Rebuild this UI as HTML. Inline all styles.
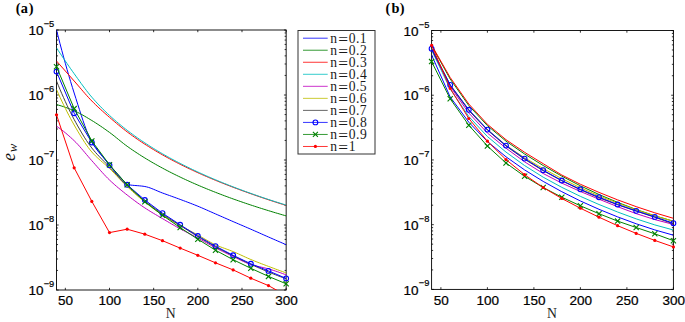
<!DOCTYPE html>
<html><head><meta charset="utf-8"><style>
html,body{margin:0;padding:0;background:#fff;}
body{width:685px;height:322px;position:relative;overflow:hidden;}
svg{position:absolute;left:0;top:0;}
.tk{font-family:"Liberation Sans",sans-serif;font-size:13.5px;fill:#000;stroke:#000;stroke-width:0.22px}
.sp{font-family:"Liberation Sans",sans-serif;font-size:9.3px;fill:#000;stroke:#000;stroke-width:0.22px}
.lg{font-family:"Liberation Serif",serif;font-size:13.6px;fill:#1a1a1a}
.eq{font-size:17.4px}
.pl{font-family:"Liberation Serif",serif;font-size:14.34px;font-weight:bold;fill:#000}
.nl{font-family:"Liberation Serif",serif;font-size:13.75px;fill:#222}
.ew{font-family:"Liberation Serif",serif;font-size:18px;font-style:italic;fill:#111}
</style></head><body>
<svg width="685" height="322" viewBox="0 0 685 322">
<defs><clipPath id="ca"><rect x="56.5" y="30.0" width="229.64999999999998" height="260.0"/></clipPath><clipPath id="cb"><rect x="431.6" y="30.5" width="241.79999999999995" height="258.9"/></clipPath></defs>
<rect x="56.5" y="30.0" width="229.65" height="260.00" fill="none" stroke="#000" stroke-width="0.9"/>
<path d="M65.33,290.0v-2.2M65.33,30.0v2.2" stroke="#000" stroke-width="0.8"/><path d="M109.50,290.0v-2.2M109.50,30.0v2.2" stroke="#000" stroke-width="0.8"/><path d="M153.66,290.0v-2.2M153.66,30.0v2.2" stroke="#000" stroke-width="0.8"/><path d="M197.82,290.0v-2.2M197.82,30.0v2.2" stroke="#000" stroke-width="0.8"/><path d="M241.99,290.0v-2.2M241.99,30.0v2.2" stroke="#000" stroke-width="0.8"/><path d="M286.15,290.0v-2.2M286.15,30.0v2.2" stroke="#000" stroke-width="0.8"/><path d="M56.5,290.00h2.2M286.15,290.00h-2.2" stroke="#000" stroke-width="0.8"/><path d="M56.5,270.43h1.54M286.15,270.43h-1.54" stroke="#000" stroke-width="0.8"/><path d="M56.5,258.99h1.54M286.15,258.99h-1.54" stroke="#000" stroke-width="0.8"/><path d="M56.5,250.87h1.54M286.15,250.87h-1.54" stroke="#000" stroke-width="0.8"/><path d="M56.5,244.57h1.54M286.15,244.57h-1.54" stroke="#000" stroke-width="0.8"/><path d="M56.5,239.42h1.54M286.15,239.42h-1.54" stroke="#000" stroke-width="0.8"/><path d="M56.5,235.07h1.54M286.15,235.07h-1.54" stroke="#000" stroke-width="0.8"/><path d="M56.5,231.30h1.54M286.15,231.30h-1.54" stroke="#000" stroke-width="0.8"/><path d="M56.5,227.97h1.54M286.15,227.97h-1.54" stroke="#000" stroke-width="0.8"/><path d="M56.5,225.00h2.2M286.15,225.00h-2.2" stroke="#000" stroke-width="0.8"/><path d="M56.5,205.43h1.54M286.15,205.43h-1.54" stroke="#000" stroke-width="0.8"/><path d="M56.5,193.99h1.54M286.15,193.99h-1.54" stroke="#000" stroke-width="0.8"/><path d="M56.5,185.87h1.54M286.15,185.87h-1.54" stroke="#000" stroke-width="0.8"/><path d="M56.5,179.57h1.54M286.15,179.57h-1.54" stroke="#000" stroke-width="0.8"/><path d="M56.5,174.42h1.54M286.15,174.42h-1.54" stroke="#000" stroke-width="0.8"/><path d="M56.5,170.07h1.54M286.15,170.07h-1.54" stroke="#000" stroke-width="0.8"/><path d="M56.5,166.30h1.54M286.15,166.30h-1.54" stroke="#000" stroke-width="0.8"/><path d="M56.5,162.97h1.54M286.15,162.97h-1.54" stroke="#000" stroke-width="0.8"/><path d="M56.5,160.00h2.2M286.15,160.00h-2.2" stroke="#000" stroke-width="0.8"/><path d="M56.5,140.43h1.54M286.15,140.43h-1.54" stroke="#000" stroke-width="0.8"/><path d="M56.5,128.99h1.54M286.15,128.99h-1.54" stroke="#000" stroke-width="0.8"/><path d="M56.5,120.87h1.54M286.15,120.87h-1.54" stroke="#000" stroke-width="0.8"/><path d="M56.5,114.57h1.54M286.15,114.57h-1.54" stroke="#000" stroke-width="0.8"/><path d="M56.5,109.42h1.54M286.15,109.42h-1.54" stroke="#000" stroke-width="0.8"/><path d="M56.5,105.07h1.54M286.15,105.07h-1.54" stroke="#000" stroke-width="0.8"/><path d="M56.5,101.30h1.54M286.15,101.30h-1.54" stroke="#000" stroke-width="0.8"/><path d="M56.5,97.97h1.54M286.15,97.97h-1.54" stroke="#000" stroke-width="0.8"/><path d="M56.5,95.00h2.2M286.15,95.00h-2.2" stroke="#000" stroke-width="0.8"/><path d="M56.5,75.43h1.54M286.15,75.43h-1.54" stroke="#000" stroke-width="0.8"/><path d="M56.5,63.99h1.54M286.15,63.99h-1.54" stroke="#000" stroke-width="0.8"/><path d="M56.5,55.87h1.54M286.15,55.87h-1.54" stroke="#000" stroke-width="0.8"/><path d="M56.5,49.57h1.54M286.15,49.57h-1.54" stroke="#000" stroke-width="0.8"/><path d="M56.5,44.42h1.54M286.15,44.42h-1.54" stroke="#000" stroke-width="0.8"/><path d="M56.5,40.07h1.54M286.15,40.07h-1.54" stroke="#000" stroke-width="0.8"/><path d="M56.5,36.30h1.54M286.15,36.30h-1.54" stroke="#000" stroke-width="0.8"/><path d="M56.5,32.97h1.54M286.15,32.97h-1.54" stroke="#000" stroke-width="0.8"/><path d="M56.5,30.00h2.2M286.15,30.00h-2.2" stroke="#000" stroke-width="0.8"/>
<rect x="431.6" y="30.5" width="241.80" height="258.90" fill="none" stroke="#000" stroke-width="0.9"/>
<path d="M440.90,289.4v-2.2M440.90,30.5v2.2" stroke="#000" stroke-width="0.8"/><path d="M487.40,289.4v-2.2M487.40,30.5v2.2" stroke="#000" stroke-width="0.8"/><path d="M533.90,289.4v-2.2M533.90,30.5v2.2" stroke="#000" stroke-width="0.8"/><path d="M580.40,289.4v-2.2M580.40,30.5v2.2" stroke="#000" stroke-width="0.8"/><path d="M626.90,289.4v-2.2M626.90,30.5v2.2" stroke="#000" stroke-width="0.8"/><path d="M673.40,289.4v-2.2M673.40,30.5v2.2" stroke="#000" stroke-width="0.8"/><path d="M431.6,289.40h2.2M673.4,289.40h-2.2" stroke="#000" stroke-width="0.8"/><path d="M431.6,269.92h1.54M673.4,269.92h-1.54" stroke="#000" stroke-width="0.8"/><path d="M431.6,258.52h1.54M673.4,258.52h-1.54" stroke="#000" stroke-width="0.8"/><path d="M431.6,250.43h1.54M673.4,250.43h-1.54" stroke="#000" stroke-width="0.8"/><path d="M431.6,244.16h1.54M673.4,244.16h-1.54" stroke="#000" stroke-width="0.8"/><path d="M431.6,239.03h1.54M673.4,239.03h-1.54" stroke="#000" stroke-width="0.8"/><path d="M431.6,234.70h1.54M673.4,234.70h-1.54" stroke="#000" stroke-width="0.8"/><path d="M431.6,230.95h1.54M673.4,230.95h-1.54" stroke="#000" stroke-width="0.8"/><path d="M431.6,227.64h1.54M673.4,227.64h-1.54" stroke="#000" stroke-width="0.8"/><path d="M431.6,224.67h2.2M673.4,224.67h-2.2" stroke="#000" stroke-width="0.8"/><path d="M431.6,205.19h1.54M673.4,205.19h-1.54" stroke="#000" stroke-width="0.8"/><path d="M431.6,193.79h1.54M673.4,193.79h-1.54" stroke="#000" stroke-width="0.8"/><path d="M431.6,185.71h1.54M673.4,185.71h-1.54" stroke="#000" stroke-width="0.8"/><path d="M431.6,179.43h1.54M673.4,179.43h-1.54" stroke="#000" stroke-width="0.8"/><path d="M431.6,174.31h1.54M673.4,174.31h-1.54" stroke="#000" stroke-width="0.8"/><path d="M431.6,169.98h1.54M673.4,169.98h-1.54" stroke="#000" stroke-width="0.8"/><path d="M431.6,166.22h1.54M673.4,166.22h-1.54" stroke="#000" stroke-width="0.8"/><path d="M431.6,162.91h1.54M673.4,162.91h-1.54" stroke="#000" stroke-width="0.8"/><path d="M431.6,159.95h2.2M673.4,159.95h-2.2" stroke="#000" stroke-width="0.8"/><path d="M431.6,140.47h1.54M673.4,140.47h-1.54" stroke="#000" stroke-width="0.8"/><path d="M431.6,129.07h1.54M673.4,129.07h-1.54" stroke="#000" stroke-width="0.8"/><path d="M431.6,120.98h1.54M673.4,120.98h-1.54" stroke="#000" stroke-width="0.8"/><path d="M431.6,114.71h1.54M673.4,114.71h-1.54" stroke="#000" stroke-width="0.8"/><path d="M431.6,109.58h1.54M673.4,109.58h-1.54" stroke="#000" stroke-width="0.8"/><path d="M431.6,105.25h1.54M673.4,105.25h-1.54" stroke="#000" stroke-width="0.8"/><path d="M431.6,101.50h1.54M673.4,101.50h-1.54" stroke="#000" stroke-width="0.8"/><path d="M431.6,98.19h1.54M673.4,98.19h-1.54" stroke="#000" stroke-width="0.8"/><path d="M431.6,95.22h2.2M673.4,95.22h-2.2" stroke="#000" stroke-width="0.8"/><path d="M431.6,75.74h1.54M673.4,75.74h-1.54" stroke="#000" stroke-width="0.8"/><path d="M431.6,64.34h1.54M673.4,64.34h-1.54" stroke="#000" stroke-width="0.8"/><path d="M431.6,56.26h1.54M673.4,56.26h-1.54" stroke="#000" stroke-width="0.8"/><path d="M431.6,49.98h1.54M673.4,49.98h-1.54" stroke="#000" stroke-width="0.8"/><path d="M431.6,44.86h1.54M673.4,44.86h-1.54" stroke="#000" stroke-width="0.8"/><path d="M431.6,40.53h1.54M673.4,40.53h-1.54" stroke="#000" stroke-width="0.8"/><path d="M431.6,36.77h1.54M673.4,36.77h-1.54" stroke="#000" stroke-width="0.8"/><path d="M431.6,33.46h1.54M673.4,33.46h-1.54" stroke="#000" stroke-width="0.8"/><path d="M431.6,30.50h2.2M673.4,30.50h-2.2" stroke="#000" stroke-width="0.8"/>
<polyline clip-path="url(#ca)" points="56.50,30.00 58.27,36.94 60.03,43.75 61.80,50.43 63.57,56.96 65.33,63.36 67.10,69.61 68.87,75.70 70.63,81.63 72.40,87.40 74.17,93.00 75.93,98.56 77.70,104.17 79.47,109.74 81.23,115.23 83.00,120.54 84.76,125.60 86.53,130.36 88.30,134.72 90.06,138.63 91.83,142.00 93.60,144.94 95.36,147.61 97.13,150.06 98.90,152.33 100.66,154.46 102.43,156.49 104.20,158.47 105.96,160.44 107.73,162.43 109.50,164.50 111.26,166.74 113.03,169.17 114.80,171.70 116.56,174.24 118.33,176.69 120.10,178.97 121.86,180.98 123.63,182.63 125.39,183.84 127.16,184.50 128.93,184.82 130.69,185.08 132.46,185.27 134.23,185.43 135.99,185.57 137.76,185.70 139.53,185.85 141.29,186.02 143.06,186.23 144.83,186.50 146.59,186.87 148.36,187.36 150.13,187.95 151.89,188.61 153.66,189.33 155.43,190.08 157.19,190.84 158.96,191.60 160.73,192.32 162.49,193.00 164.26,193.64 166.03,194.28 167.79,194.92 169.56,195.55 171.32,196.18 173.09,196.82 174.86,197.45 176.62,198.10 178.39,198.74 180.16,199.40 181.92,200.06 183.69,200.72 185.46,201.38 187.22,202.05 188.99,202.72 190.76,203.40 192.52,204.08 194.29,204.78 196.06,205.48 197.82,206.20 199.59,206.93 201.36,207.68 203.12,208.44 204.89,209.21 206.66,209.99 208.42,210.77 210.19,211.56 211.96,212.34 213.72,213.13 215.49,213.90 217.25,214.67 219.02,215.44 220.79,216.21 222.55,216.98 224.32,217.76 226.09,218.53 227.85,219.30 229.62,220.07 231.39,220.83 233.15,221.60 234.92,222.36 236.69,223.12 238.45,223.88 240.22,224.64 241.99,225.39 243.75,226.15 245.52,226.91 247.29,227.67 249.05,228.43 250.82,229.20 252.59,229.97 254.35,230.75 256.12,231.53 257.89,232.31 259.65,233.09 261.42,233.88 263.18,234.66 264.95,235.44 266.72,236.22 268.48,237.00 270.25,237.77 272.02,238.55 273.78,239.32 275.55,240.09 277.32,240.86 279.08,241.63 280.85,242.40 282.62,243.17 284.38,243.93 286.15,244.70" fill="none" stroke="#0000ff" stroke-width="1.0" stroke-linejoin="round"/>
<polyline clip-path="url(#ca)" points="56.50,104.60 58.27,105.07 60.03,105.57 61.80,106.12 63.57,106.70 65.33,107.31 67.10,107.96 68.87,108.63 70.63,109.33 72.40,110.05 74.17,110.80 75.93,111.59 77.70,112.44 79.47,113.33 81.23,114.28 83.00,115.26 84.76,116.27 86.53,117.31 88.30,118.37 90.06,119.43 91.83,120.50 93.60,121.58 95.36,122.70 97.13,123.83 98.90,125.00 100.66,126.19 102.43,127.39 104.20,128.62 105.96,129.87 107.73,131.13 109.50,132.40 111.26,133.71 113.03,135.07 114.80,136.48 116.56,137.90 118.33,139.34 120.10,140.78 121.86,142.20 123.63,143.60 125.39,144.96 127.16,146.26 128.93,147.52 130.69,148.75 132.46,149.97 134.23,151.16 135.99,152.34 137.76,153.50 139.53,154.64 141.29,155.77 143.06,156.88 144.83,157.97 146.59,159.05 148.36,160.12 150.13,161.16 151.89,162.20 153.66,163.22 155.43,164.22 157.19,165.22 158.96,166.20 160.73,167.16 162.49,168.12 164.26,169.07 166.03,170.00 167.79,170.92 169.56,171.83 171.32,172.73 173.09,173.62 174.86,174.50 176.62,175.36 178.39,176.22 180.16,177.07 181.92,177.91 183.69,178.74 185.46,179.57 187.22,180.38 188.99,181.18 190.76,181.98 192.52,182.77 194.29,183.54 196.06,184.32 197.82,185.08 199.59,185.84 201.36,186.59 203.12,187.33 204.89,188.06 206.66,188.79 208.42,189.51 210.19,190.22 211.96,190.93 213.72,191.63 215.49,192.32 217.25,193.01 219.02,193.69 220.79,194.37 222.55,195.04 224.32,195.70 226.09,196.36 227.85,197.01 229.62,197.66 231.39,198.30 233.15,198.94 234.92,199.57 236.69,200.19 238.45,200.81 240.22,201.43 241.99,202.04 243.75,202.65 245.52,203.25 247.29,203.84 249.05,204.43 250.82,205.02 252.59,205.60 254.35,206.18 256.12,206.75 257.89,207.32 259.65,207.89 261.42,208.45 263.18,209.01 264.95,209.56 266.72,210.11 268.48,210.65 270.25,211.19 272.02,211.73 273.78,212.27 275.55,212.80 277.32,213.32 279.08,213.84 280.85,214.36 282.62,214.88 284.38,215.39 286.15,215.90" fill="none" stroke="#008000" stroke-width="1.0" stroke-linejoin="round"/>
<polyline clip-path="url(#ca)" points="56.50,61.00 58.27,63.00 60.03,65.00 61.80,67.00 63.57,69.00 65.33,71.00 67.10,73.00 68.87,75.00 70.63,77.00 72.40,79.00 74.17,81.00 75.93,83.02 77.70,85.07 79.47,87.13 81.23,89.20 83.00,91.25 84.76,93.29 86.53,95.30 88.30,97.26 90.06,99.17 91.83,101.00 93.60,102.77 95.36,104.50 97.13,106.19 98.90,107.85 100.66,109.47 102.43,111.07 104.20,112.65 105.96,114.21 107.73,115.76 109.50,117.30 111.26,118.83 113.03,120.36 114.80,121.87 116.56,123.36 118.33,124.84 120.10,126.30 121.86,127.73 123.63,129.14 125.39,130.52 127.16,131.87 128.93,133.19 130.69,134.49 132.46,135.77 134.23,137.03 135.99,138.27 137.76,139.49 139.53,140.69 141.29,141.87 143.06,143.04 144.83,144.19 146.59,145.32 148.36,146.44 150.13,147.54 151.89,148.63 153.66,149.70 155.43,150.76 157.19,151.80 158.96,152.83 160.73,153.85 162.49,154.86 164.26,155.85 166.03,156.83 167.79,157.80 169.56,158.76 171.32,159.70 173.09,160.64 174.86,161.56 176.62,162.47 178.39,163.38 180.16,164.27 181.92,165.15 183.69,166.03 185.46,166.89 187.22,167.75 188.99,168.59 190.76,169.43 192.52,170.26 194.29,171.07 196.06,171.89 197.82,172.69 199.59,173.49 201.36,174.27 203.12,175.05 204.89,175.82 206.66,176.59 208.42,177.35 210.19,178.10 211.96,178.84 213.72,179.58 215.49,180.31 217.25,181.03 219.02,181.75 220.79,182.45 222.55,183.16 224.32,183.85 226.09,184.55 227.85,185.23 229.62,185.91 231.39,186.59 233.15,187.26 234.92,187.93 236.69,188.59 238.45,189.24 240.22,189.90 241.99,190.54 243.75,191.19 245.52,191.82 247.29,192.46 249.05,193.09 250.82,193.71 252.59,194.34 254.35,194.96 256.12,195.57 257.89,196.18 259.65,196.79 261.42,197.40 263.18,197.99 264.95,198.59 266.72,199.18 268.48,199.77 270.25,200.35 272.02,200.92 273.78,201.50 275.55,202.07 277.32,202.63 279.08,203.19 280.85,203.75 282.62,204.31 284.38,204.85 286.15,205.40" fill="none" stroke="#ff0000" stroke-width="1.0" stroke-linejoin="round"/>
<polyline clip-path="url(#ca)" points="56.50,47.80 58.27,50.50 60.03,53.17 61.80,55.82 63.57,58.45 65.33,61.05 67.10,63.63 68.87,66.19 70.63,68.71 72.40,71.22 74.17,73.69 75.93,76.16 77.70,78.63 79.47,81.09 81.23,83.54 83.00,85.95 84.76,88.32 86.53,90.64 88.30,92.90 90.06,95.08 91.83,97.18 93.60,99.21 95.36,101.18 97.13,103.10 98.90,104.98 100.66,106.81 102.43,108.60 104.20,110.35 105.96,112.06 107.73,113.75 109.50,115.40 111.26,117.02 113.03,118.61 114.80,120.16 116.56,121.69 118.33,123.19 120.10,124.65 121.86,126.10 123.63,127.52 125.39,128.91 127.16,130.29 128.93,131.64 130.69,132.97 132.46,134.27 134.23,135.56 135.99,136.82 137.76,138.07 139.53,139.30 141.29,140.50 143.06,141.70 144.83,142.87 146.59,144.03 148.36,145.17 150.13,146.30 151.89,147.41 153.66,148.51 155.43,149.59 157.19,150.65 158.96,151.71 160.73,152.75 162.49,153.77 164.26,154.79 166.03,155.79 167.79,156.78 169.56,157.76 171.32,158.73 173.09,159.68 174.86,160.62 176.62,161.56 178.39,162.48 180.16,163.39 181.92,164.29 183.69,165.19 185.46,166.07 187.22,166.94 188.99,167.81 190.76,168.66 192.52,169.51 194.29,170.34 196.06,171.17 197.82,171.99 199.59,172.81 201.36,173.61 203.12,174.41 204.89,175.20 206.66,175.98 208.42,176.75 210.19,177.52 211.96,178.28 213.72,179.03 215.49,179.78 217.25,180.51 219.02,181.25 220.79,181.97 222.55,182.69 224.32,183.41 226.09,184.11 227.85,184.81 229.62,185.51 231.39,186.20 233.15,186.88 234.92,187.56 236.69,188.23 238.45,188.90 240.22,189.56 241.99,190.21 243.75,190.86 245.52,191.51 247.29,192.15 249.05,192.78 250.82,193.41 252.59,194.04 254.35,194.66 256.12,195.28 257.89,195.89 259.65,196.50 261.42,197.10 263.18,197.70 264.95,198.29 266.72,198.88 268.48,199.47 270.25,200.05 272.02,200.62 273.78,201.20 275.55,201.77 277.32,202.33 279.08,202.89 280.85,203.45 282.62,204.01 284.38,204.55 286.15,205.10" fill="none" stroke="#00bfbf" stroke-width="1.0" stroke-linejoin="round"/>
<polyline clip-path="url(#ca)" points="56.50,126.20 58.27,127.41 60.03,128.67 61.80,130.00 63.57,131.38 65.33,132.82 67.10,134.30 68.87,135.84 70.63,137.42 72.40,139.04 74.17,140.70 75.93,142.44 77.70,144.30 79.47,146.25 81.23,148.28 83.00,150.35 84.76,152.45 86.53,154.55 88.30,156.64 90.06,158.70 91.83,160.70 93.60,162.68 95.36,164.68 97.13,166.69 98.90,168.70 100.66,170.70 102.43,172.66 104.20,174.59 105.96,176.46 107.73,178.27 109.50,180.00 111.26,181.66 113.03,183.28 114.80,184.85 116.56,186.38 118.33,187.88 120.10,189.34 121.86,190.78 123.63,192.20 125.39,193.61 127.16,195.00 128.93,196.38 130.69,197.74 132.46,199.09 134.23,200.42 135.99,201.72 137.76,203.01 139.53,204.27 141.29,205.50 143.06,206.72 144.83,207.90 146.59,209.05 148.36,210.18 150.13,211.27 151.89,212.35 153.66,213.41 155.43,214.45 157.19,215.49 158.96,216.52 160.73,217.56 162.49,218.60 164.26,219.64 166.03,220.69 167.79,221.73 169.56,222.77 171.32,223.80 173.09,224.82 174.86,225.83 176.62,226.84 178.39,227.82 180.16,228.80 181.92,229.76 183.69,230.69 185.46,231.61 187.22,232.52 188.99,233.42 190.76,234.32 192.52,235.23 194.29,236.14 196.06,237.06 197.82,238.00 199.59,238.96 201.36,239.94 203.12,240.93 204.89,241.93 206.66,242.93 208.42,243.93 210.19,244.93 211.96,245.90 213.72,246.86 215.49,247.80 217.25,248.72 219.02,249.62 220.79,250.51 222.55,251.39 224.32,252.26 226.09,253.12 227.85,253.98 229.62,254.82 231.39,255.66 233.15,256.50 234.92,257.35 236.69,258.22 238.45,259.10 240.22,259.97 241.99,260.83 243.75,261.67 245.52,262.46 247.29,263.21 249.05,263.89 250.82,264.50 252.59,265.04 254.35,265.52 256.12,265.97 257.89,266.38 259.65,266.78 261.42,267.17 263.18,267.56 264.95,267.97 266.72,268.42 268.48,268.90 270.25,269.42 272.02,269.96 273.78,270.51 275.55,271.09 277.32,271.68 279.08,272.30 280.85,272.92 282.62,273.57 284.38,274.23 286.15,274.90" fill="none" stroke="#bf00bf" stroke-width="1.0" stroke-linejoin="round"/>
<polyline clip-path="url(#ca)" points="56.50,89.50 58.27,93.44 60.03,97.30 61.80,101.08 63.57,104.78 65.33,108.38 67.10,111.90 68.87,115.33 70.63,118.65 72.40,121.88 74.17,125.00 75.93,128.06 77.70,131.08 79.47,134.05 81.23,136.95 83.00,139.77 84.76,142.49 86.53,145.09 88.30,147.55 90.06,149.86 91.83,152.00 93.60,153.97 95.36,155.79 97.13,157.49 98.90,159.10 100.66,160.66 102.43,162.18 104.20,163.70 105.96,165.24 107.73,166.83 109.50,168.50 111.26,170.25 113.03,172.04 114.80,173.87 116.56,175.72 118.33,177.57 120.10,179.42 121.86,181.25 123.63,183.05 125.39,184.80 127.16,186.50 128.93,188.16 130.69,189.79 132.46,191.41 134.23,193.00 135.99,194.56 137.76,196.11 139.53,197.62 141.29,199.11 143.06,200.57 144.83,202.00 146.59,203.40 148.36,204.79 150.13,206.15 151.89,207.50 153.66,208.82 155.43,210.11 157.19,211.38 158.96,212.61 160.73,213.82 162.49,215.00 164.26,216.15 166.03,217.26 167.79,218.35 169.56,219.41 171.32,220.46 173.09,221.48 174.86,222.50 176.62,223.50 178.39,224.50 180.16,225.50 181.92,226.49 183.69,227.46 185.46,228.41 187.22,229.35 188.99,230.29 190.76,231.22 192.52,232.16 194.29,233.10 196.06,234.04 197.82,235.00 199.59,235.98 201.36,237.00 203.12,238.03 204.89,239.07 206.66,240.10 208.42,241.12 210.19,242.11 211.96,243.06 213.72,243.96 215.49,244.80 217.25,245.57 219.02,246.30 220.79,246.99 222.55,247.65 224.32,248.29 226.09,248.92 227.85,249.56 229.62,250.21 231.39,250.89 233.15,251.60 234.92,252.35 236.69,253.12 238.45,253.92 240.22,254.73 241.99,255.54 243.75,256.36 245.52,257.17 247.29,257.97 249.05,258.75 250.82,259.50 252.59,260.23 254.35,260.95 256.12,261.65 257.89,262.35 259.65,263.03 261.42,263.71 263.18,264.39 264.95,265.06 266.72,265.73 268.48,266.40 270.25,267.07 272.02,267.73 273.78,268.39 275.55,269.05 277.32,269.70 279.08,270.35 280.85,270.99 282.62,271.63 284.38,272.27 286.15,272.90" fill="none" stroke="#bfbf00" stroke-width="1.0" stroke-linejoin="round"/>
<polyline clip-path="url(#ca)" points="56.50,81.00 58.27,85.31 60.03,89.52 61.80,93.65 63.57,97.67 65.33,101.59 67.10,105.41 68.87,109.11 70.63,112.70 72.40,116.16 74.17,119.50 75.93,122.75 77.70,125.93 79.47,129.03 81.23,132.06 83.00,134.99 84.76,137.83 86.53,140.56 88.30,143.17 90.06,145.65 91.83,148.00 93.60,150.21 95.36,152.29 97.13,154.27 98.90,156.17 100.66,158.01 102.43,159.80 104.20,161.58 105.96,163.35 107.73,165.15 109.50,167.00 111.26,168.88 113.03,170.78 114.80,172.69 116.56,174.59 118.33,176.48 120.10,178.36 121.86,180.21 123.63,182.02 125.39,183.78 127.16,185.50 128.93,187.17 130.69,188.82 132.46,190.44 134.23,192.03 135.99,193.59 137.76,195.13 139.53,196.64 141.29,198.12 143.06,199.57 144.83,201.00 146.59,202.40 148.36,203.77 150.13,205.12 151.89,206.44 153.66,207.74 155.43,209.02 157.19,210.29 158.96,211.54 160.73,212.77 162.49,214.00 164.26,215.21 166.03,216.40 167.79,217.57 169.56,218.73 171.32,219.87 173.09,221.00 174.86,222.13 176.62,223.26 178.39,224.38 180.16,225.50 181.92,226.62 183.69,227.74 185.46,228.86 187.22,229.97 188.99,231.08 190.76,232.18 192.52,233.27 194.29,234.35 196.06,235.43 197.82,236.50 199.59,237.56 201.36,238.63 203.12,239.68 204.89,240.74 206.66,241.78 208.42,242.81 210.19,243.83 211.96,244.84 213.72,245.83 215.49,246.80 217.25,247.75 219.02,248.69 220.79,249.61 222.55,250.51 224.32,251.41 226.09,252.30 227.85,253.18 229.62,254.05 231.39,254.93 233.15,255.80 234.92,256.67 236.69,257.54 238.45,258.41 240.22,259.28 241.99,260.13 243.75,260.98 245.52,261.83 247.29,262.66 249.05,263.49 250.82,264.30 252.59,265.11 254.35,265.90 256.12,266.70 257.89,267.48 259.65,268.26 261.42,269.03 263.18,269.78 264.95,270.53 266.72,271.27 268.48,272.00 270.25,272.72 272.02,273.43 273.78,274.13 275.55,274.82 277.32,275.51 279.08,276.19 280.85,276.85 282.62,277.51 284.38,278.16 286.15,278.80" fill="none" stroke="#404040" stroke-width="1.0" stroke-linejoin="round"/>
<polyline clip-path="url(#ca)" points="56.50,71.60 74.17,113.20 91.83,142.50 109.50,165.30 127.16,184.80 144.83,200.00 162.49,213.20 180.16,224.80 197.82,236.00 215.49,246.20 233.15,255.30 250.82,263.80 268.48,270.90 286.15,278.40" fill="none" stroke="#0000ff" stroke-width="1.0" stroke-linejoin="round"/>
<circle cx="56.50" cy="71.60" r="2.4" fill="none" stroke="#0000ff" stroke-width="1.1"/><circle cx="74.17" cy="113.20" r="2.4" fill="none" stroke="#0000ff" stroke-width="1.1"/><circle cx="91.83" cy="142.50" r="2.4" fill="none" stroke="#0000ff" stroke-width="1.1"/><circle cx="109.50" cy="165.30" r="2.4" fill="none" stroke="#0000ff" stroke-width="1.1"/><circle cx="127.16" cy="184.80" r="2.4" fill="none" stroke="#0000ff" stroke-width="1.1"/><circle cx="144.83" cy="200.00" r="2.4" fill="none" stroke="#0000ff" stroke-width="1.1"/><circle cx="162.49" cy="213.20" r="2.4" fill="none" stroke="#0000ff" stroke-width="1.1"/><circle cx="180.16" cy="224.80" r="2.4" fill="none" stroke="#0000ff" stroke-width="1.1"/><circle cx="197.82" cy="236.00" r="2.4" fill="none" stroke="#0000ff" stroke-width="1.1"/><circle cx="215.49" cy="246.20" r="2.4" fill="none" stroke="#0000ff" stroke-width="1.1"/><circle cx="233.15" cy="255.30" r="2.4" fill="none" stroke="#0000ff" stroke-width="1.1"/><circle cx="250.82" cy="263.80" r="2.4" fill="none" stroke="#0000ff" stroke-width="1.1"/><circle cx="268.48" cy="270.90" r="2.4" fill="none" stroke="#0000ff" stroke-width="1.1"/><circle cx="286.15" cy="278.40" r="2.4" fill="none" stroke="#0000ff" stroke-width="1.1"/>
<polyline clip-path="url(#ca)" points="56.50,66.70 74.17,108.60 91.83,140.90 109.50,164.80 127.16,184.80 144.83,201.80 162.49,215.30 180.16,227.60 197.82,239.20 215.49,250.20 233.15,259.70 250.82,268.30 268.48,276.40 286.15,283.80" fill="none" stroke="#008000" stroke-width="1.0" stroke-linejoin="round"/>
<path d="M53.90,64.10L59.10,69.30M53.90,69.30L59.10,64.10" stroke="#008000" stroke-width="1.1"/><path d="M71.57,106.00L76.77,111.20M71.57,111.20L76.77,106.00" stroke="#008000" stroke-width="1.1"/><path d="M89.23,138.30L94.43,143.50M89.23,143.50L94.43,138.30" stroke="#008000" stroke-width="1.1"/><path d="M106.90,162.20L112.10,167.40M106.90,167.40L112.10,162.20" stroke="#008000" stroke-width="1.1"/><path d="M124.56,182.20L129.76,187.40M124.56,187.40L129.76,182.20" stroke="#008000" stroke-width="1.1"/><path d="M142.23,199.20L147.43,204.40M142.23,204.40L147.43,199.20" stroke="#008000" stroke-width="1.1"/><path d="M159.89,212.70L165.09,217.90M159.89,217.90L165.09,212.70" stroke="#008000" stroke-width="1.1"/><path d="M177.56,225.00L182.76,230.20M177.56,230.20L182.76,225.00" stroke="#008000" stroke-width="1.1"/><path d="M195.22,236.60L200.42,241.80M195.22,241.80L200.42,236.60" stroke="#008000" stroke-width="1.1"/><path d="M212.89,247.60L218.09,252.80M212.89,252.80L218.09,247.60" stroke="#008000" stroke-width="1.1"/><path d="M230.55,257.10L235.75,262.30M230.55,262.30L235.75,257.10" stroke="#008000" stroke-width="1.1"/><path d="M248.22,265.70L253.42,270.90M248.22,270.90L253.42,265.70" stroke="#008000" stroke-width="1.1"/><path d="M265.88,273.80L271.08,279.00M265.88,279.00L271.08,273.80" stroke="#008000" stroke-width="1.1"/><path d="M283.55,281.20L288.75,286.40M283.55,286.40L288.75,281.20" stroke="#008000" stroke-width="1.1"/>
<polyline clip-path="url(#ca)" points="56.50,114.80 74.17,167.80 91.83,201.40 109.50,232.60 127.16,229.20 144.83,234.20 162.49,240.70 180.16,248.10 197.82,255.30 215.49,262.80 233.15,269.90 250.82,278.20 268.48,285.60 286.15,295.50" fill="none" stroke="#ff0000" stroke-width="1.0" stroke-linejoin="round"/>
<circle cx="56.50" cy="114.80" r="1.6" fill="#ff0000"/><circle cx="74.17" cy="167.80" r="1.6" fill="#ff0000"/><circle cx="91.83" cy="201.40" r="1.6" fill="#ff0000"/><circle cx="109.50" cy="232.60" r="1.6" fill="#ff0000"/><circle cx="127.16" cy="229.20" r="1.6" fill="#ff0000"/><circle cx="144.83" cy="234.20" r="1.6" fill="#ff0000"/><circle cx="162.49" cy="240.70" r="1.6" fill="#ff0000"/><circle cx="180.16" cy="248.10" r="1.6" fill="#ff0000"/><circle cx="197.82" cy="255.30" r="1.6" fill="#ff0000"/><circle cx="215.49" cy="262.80" r="1.6" fill="#ff0000"/><circle cx="233.15" cy="269.90" r="1.6" fill="#ff0000"/><circle cx="250.82" cy="278.20" r="1.6" fill="#ff0000"/><circle cx="268.48" cy="285.60" r="1.6" fill="#ff0000"/>
<polyline clip-path="url(#cb)" points="431.60,55.00 450.20,97.00 468.80,122.20 487.40,141.50 506.00,156.80 524.60,169.91 543.20,181.40 561.80,191.70 580.40,200.98 599.00,209.30 617.60,216.88 636.20,223.77 654.80,229.90 673.40,235.20" fill="none" stroke="#0000ff" stroke-width="1.0" stroke-linejoin="round"/>
<polyline clip-path="url(#cb)" points="431.60,45.50 450.20,79.00 468.80,105.50 487.40,125.60 506.00,141.13 524.60,154.02 543.20,165.50 561.80,176.13 580.40,185.83 599.00,194.50 617.60,202.36 636.20,209.50 654.80,215.80 673.40,221.20" fill="none" stroke="#008000" stroke-width="1.0" stroke-linejoin="round"/>
<polyline clip-path="url(#cb)" points="431.60,45.00 450.20,77.50 468.80,104.00 487.40,124.30 506.00,139.70 524.60,152.32 543.20,163.70 561.80,175.00 580.40,184.28 599.00,192.40 617.60,199.86 636.20,206.65 654.80,212.80 673.40,218.30" fill="none" stroke="#ff0000" stroke-width="1.0" stroke-linejoin="round"/>
<polyline clip-path="url(#cb)" points="431.60,50.00 450.20,89.00 468.80,116.50 487.40,136.50 506.00,152.10 524.60,165.55 543.20,177.20 561.80,187.35 580.40,196.37 599.00,204.50 617.60,212.01 636.20,218.88 654.80,224.90 673.40,230.00" fill="none" stroke="#00bfbf" stroke-width="1.0" stroke-linejoin="round"/>
<polyline clip-path="url(#cb)" points="431.60,49.00 450.20,86.50 468.80,113.00 487.40,133.00 506.00,148.20 524.60,161.82 543.20,173.50 561.80,183.12 580.40,191.49 599.00,199.20 617.60,206.69 636.20,213.64 654.80,219.60 673.40,224.40" fill="none" stroke="#bf00bf" stroke-width="1.0" stroke-linejoin="round"/>
<polyline clip-path="url(#cb)" points="431.60,48.70 450.20,84.90 468.80,109.80 487.40,129.50 506.00,145.30 524.60,157.80 543.20,168.60 561.80,178.63 580.40,187.76 599.00,195.90 617.60,203.17 636.20,209.77 654.80,215.80 673.40,221.30" fill="none" stroke="#bfbf00" stroke-width="1.0" stroke-linejoin="round"/>
<polyline clip-path="url(#cb)" points="431.60,49.20 450.20,85.40 468.80,110.50 487.40,130.10 506.00,146.00 524.60,159.27 543.20,170.70 561.80,180.80 580.40,189.80 599.00,197.80 617.60,204.76 636.20,211.08 654.80,217.30 673.40,223.80" fill="none" stroke="#404040" stroke-width="1.0" stroke-linejoin="round"/>
<polyline clip-path="url(#cb)" points="431.60,48.70 450.20,84.90 468.80,109.80 487.40,129.60 506.00,145.60 524.60,158.60 543.20,170.20 561.80,180.50 580.40,189.31 599.00,197.20 617.60,204.50 636.20,210.86 654.80,216.90 673.40,223.20" fill="none" stroke="#0000ff" stroke-width="1.0" stroke-linejoin="round"/>
<circle cx="431.60" cy="48.70" r="2.4" fill="none" stroke="#0000ff" stroke-width="1.1"/><circle cx="450.20" cy="84.90" r="2.4" fill="none" stroke="#0000ff" stroke-width="1.1"/><circle cx="468.80" cy="109.80" r="2.4" fill="none" stroke="#0000ff" stroke-width="1.1"/><circle cx="487.40" cy="129.60" r="2.4" fill="none" stroke="#0000ff" stroke-width="1.1"/><circle cx="506.00" cy="145.60" r="2.4" fill="none" stroke="#0000ff" stroke-width="1.1"/><circle cx="524.60" cy="158.60" r="2.4" fill="none" stroke="#0000ff" stroke-width="1.1"/><circle cx="543.20" cy="170.20" r="2.4" fill="none" stroke="#0000ff" stroke-width="1.1"/><circle cx="561.80" cy="180.50" r="2.4" fill="none" stroke="#0000ff" stroke-width="1.1"/><circle cx="580.40" cy="189.31" r="2.4" fill="none" stroke="#0000ff" stroke-width="1.1"/><circle cx="599.00" cy="197.20" r="2.4" fill="none" stroke="#0000ff" stroke-width="1.1"/><circle cx="617.60" cy="204.50" r="2.4" fill="none" stroke="#0000ff" stroke-width="1.1"/><circle cx="636.20" cy="210.86" r="2.4" fill="none" stroke="#0000ff" stroke-width="1.1"/><circle cx="654.80" cy="216.90" r="2.4" fill="none" stroke="#0000ff" stroke-width="1.1"/><circle cx="673.40" cy="223.20" r="2.4" fill="none" stroke="#0000ff" stroke-width="1.1"/>
<polyline clip-path="url(#cb)" points="431.60,61.60 450.20,98.80 468.80,125.20 487.40,146.10 506.00,163.00 524.60,176.31 543.20,187.50 561.80,197.21 580.40,205.81 599.00,213.70 617.60,221.10 636.20,227.54 654.80,233.80 673.40,240.70" fill="none" stroke="#008000" stroke-width="1.0" stroke-linejoin="round"/>
<path d="M429.00,59.00L434.20,64.20M429.00,64.20L434.20,59.00" stroke="#008000" stroke-width="1.1"/><path d="M447.60,96.20L452.80,101.40M447.60,101.40L452.80,96.20" stroke="#008000" stroke-width="1.1"/><path d="M466.20,122.60L471.40,127.80M466.20,127.80L471.40,122.60" stroke="#008000" stroke-width="1.1"/><path d="M484.80,143.50L490.00,148.70M484.80,148.70L490.00,143.50" stroke="#008000" stroke-width="1.1"/><path d="M503.40,160.40L508.60,165.60M503.40,165.60L508.60,160.40" stroke="#008000" stroke-width="1.1"/><path d="M522.00,173.71L527.20,178.91M522.00,178.91L527.20,173.71" stroke="#008000" stroke-width="1.1"/><path d="M540.60,184.90L545.80,190.10M540.60,190.10L545.80,184.90" stroke="#008000" stroke-width="1.1"/><path d="M559.20,194.61L564.40,199.81M559.20,199.81L564.40,194.61" stroke="#008000" stroke-width="1.1"/><path d="M577.80,203.21L583.00,208.41M577.80,208.41L583.00,203.21" stroke="#008000" stroke-width="1.1"/><path d="M596.40,211.10L601.60,216.30M596.40,216.30L601.60,211.10" stroke="#008000" stroke-width="1.1"/><path d="M615.00,218.50L620.20,223.70M615.00,223.70L620.20,218.50" stroke="#008000" stroke-width="1.1"/><path d="M633.60,224.94L638.80,230.14M633.60,230.14L638.80,224.94" stroke="#008000" stroke-width="1.1"/><path d="M652.20,231.20L657.40,236.40M652.20,236.40L657.40,231.20" stroke="#008000" stroke-width="1.1"/><path d="M670.80,238.10L676.00,243.30M670.80,243.30L676.00,238.10" stroke="#008000" stroke-width="1.1"/>
<polyline clip-path="url(#cb)" points="431.60,45.30 450.20,88.40 468.80,118.50 487.40,141.20 506.00,159.60 524.60,174.69 543.20,187.50 561.80,198.50 580.40,208.23 599.00,217.20 617.60,225.70 636.20,233.39 654.80,240.43 673.40,246.90" fill="none" stroke="#ff0000" stroke-width="1.0" stroke-linejoin="round"/>
<circle cx="431.60" cy="45.30" r="1.6" fill="#ff0000"/><circle cx="450.20" cy="88.40" r="1.6" fill="#ff0000"/><circle cx="468.80" cy="118.50" r="1.6" fill="#ff0000"/><circle cx="487.40" cy="141.20" r="1.6" fill="#ff0000"/><circle cx="506.00" cy="159.60" r="1.6" fill="#ff0000"/><circle cx="524.60" cy="174.69" r="1.6" fill="#ff0000"/><circle cx="543.20" cy="187.50" r="1.6" fill="#ff0000"/><circle cx="561.80" cy="198.50" r="1.6" fill="#ff0000"/><circle cx="580.40" cy="208.23" r="1.6" fill="#ff0000"/><circle cx="599.00" cy="217.20" r="1.6" fill="#ff0000"/><circle cx="617.60" cy="225.70" r="1.6" fill="#ff0000"/><circle cx="636.20" cy="233.39" r="1.6" fill="#ff0000"/><circle cx="654.80" cy="240.43" r="1.6" fill="#ff0000"/><circle cx="673.40" cy="246.90" r="1.6" fill="#ff0000"/>
<rect x="298" y="30.5" width="77" height="123.5" fill="#fff" stroke="#333" stroke-width="1"/>
<line x1="303" y1="38.20" x2="327.7" y2="38.20" stroke="#0000ff" stroke-width="0.8"/><text y="42.60" class="lg"><tspan x="330.25">n</tspan><tspan x="338.24" dy="2.45" class="eq">=</tspan><tspan x="348.82 355.88 359.76" dy="-2.45">0.1</tspan></text>
<line x1="303" y1="50.23" x2="327.7" y2="50.23" stroke="#008000" stroke-width="0.8"/><text y="54.63" class="lg"><tspan x="330.25">n</tspan><tspan x="338.24" dy="2.45" class="eq">=</tspan><tspan x="348.82 355.88 360.02" dy="-2.45">0.2</tspan></text>
<line x1="303" y1="62.26" x2="327.7" y2="62.26" stroke="#ff0000" stroke-width="0.8"/><text y="66.66" class="lg"><tspan x="330.25">n</tspan><tspan x="338.24" dy="2.45" class="eq">=</tspan><tspan x="348.82 355.88 359.89" dy="-2.45">0.3</tspan></text>
<line x1="303" y1="74.29" x2="327.7" y2="74.29" stroke="#00bfbf" stroke-width="0.8"/><text y="78.69" class="lg"><tspan x="330.25">n</tspan><tspan x="338.24" dy="2.45" class="eq">=</tspan><tspan x="348.82 355.88 359.92" dy="-2.45">0.4</tspan></text>
<line x1="303" y1="86.32" x2="327.7" y2="86.32" stroke="#bf00bf" stroke-width="0.8"/><text y="90.72" class="lg"><tspan x="330.25">n</tspan><tspan x="338.24" dy="2.45" class="eq">=</tspan><tspan x="348.82 355.88 359.82" dy="-2.45">0.5</tspan></text>
<line x1="303" y1="98.35" x2="327.7" y2="98.35" stroke="#bfbf00" stroke-width="0.8"/><text y="102.75" class="lg"><tspan x="330.25">n</tspan><tspan x="338.24" dy="2.45" class="eq">=</tspan><tspan x="348.82 355.88 359.86" dy="-2.45">0.6</tspan></text>
<line x1="303" y1="110.38" x2="327.7" y2="110.38" stroke="#404040" stroke-width="0.8"/><text y="114.78" class="lg"><tspan x="330.25">n</tspan><tspan x="338.24" dy="2.45" class="eq">=</tspan><tspan x="348.82 355.88 359.69" dy="-2.45">0.7</tspan></text>
<line x1="303" y1="122.41" x2="327.7" y2="122.41" stroke="#0000ff" stroke-width="0.8"/><circle cx="315.4" cy="122.41" r="2.4" fill="none" stroke="#0000ff" stroke-width="1.1"/><text y="126.81" class="lg"><tspan x="330.25">n</tspan><tspan x="338.24" dy="2.45" class="eq">=</tspan><tspan x="348.82 355.88 359.94" dy="-2.45">0.8</tspan></text>
<line x1="303" y1="134.44" x2="327.7" y2="134.44" stroke="#008000" stroke-width="0.8"/><path d="M312.9,131.94L317.9,136.94M312.9,136.94L317.9,131.94" stroke="#008000" stroke-width="1.1"/><text y="138.84" class="lg"><tspan x="330.25">n</tspan><tspan x="338.24" dy="2.45" class="eq">=</tspan><tspan x="348.82 355.88 360.00" dy="-2.45">0.9</tspan></text>
<line x1="303" y1="146.47" x2="327.7" y2="146.47" stroke="#ff0000" stroke-width="0.8"/><circle cx="315.4" cy="146.47" r="1.6" fill="#ff0000"/><text y="150.87" class="lg"><tspan x="330.25">n</tspan><tspan x="338.24" dy="2.45" class="eq">=</tspan><tspan x="348.64" dy="-2.45">1</tspan></text>
<text x="43.50" y="35.20" class="tk" text-anchor="end">10</text><text x="54.30" y="27.00" class="sp" text-anchor="end">&#8722;5</text><text x="43.50" y="100.20" class="tk" text-anchor="end">10</text><text x="54.30" y="92.00" class="sp" text-anchor="end">&#8722;6</text><text x="43.50" y="165.20" class="tk" text-anchor="end">10</text><text x="54.30" y="157.00" class="sp" text-anchor="end">&#8722;7</text><text x="43.50" y="230.20" class="tk" text-anchor="end">10</text><text x="54.30" y="222.00" class="sp" text-anchor="end">&#8722;8</text><text x="43.50" y="295.20" class="tk" text-anchor="end">10</text><text x="54.30" y="287.00" class="sp" text-anchor="end">&#8722;9</text>
<text x="418.60" y="35.70" class="tk" text-anchor="end">10</text><text x="429.40" y="27.50" class="sp" text-anchor="end">&#8722;5</text><text x="418.60" y="100.42" class="tk" text-anchor="end">10</text><text x="429.40" y="92.22" class="sp" text-anchor="end">&#8722;6</text><text x="418.60" y="165.15" class="tk" text-anchor="end">10</text><text x="429.40" y="156.95" class="sp" text-anchor="end">&#8722;7</text><text x="418.60" y="229.87" class="tk" text-anchor="end">10</text><text x="429.40" y="221.67" class="sp" text-anchor="end">&#8722;8</text><text x="418.60" y="294.60" class="tk" text-anchor="end">10</text><text x="429.40" y="286.40" class="sp" text-anchor="end">&#8722;9</text>
<text x="65.63" y="305.30" class="tk" text-anchor="middle">50</text><text x="109.80" y="305.30" class="tk" text-anchor="middle">100</text><text x="153.96" y="305.30" class="tk" text-anchor="middle">150</text><text x="198.12" y="305.30" class="tk" text-anchor="middle">200</text><text x="242.29" y="305.30" class="tk" text-anchor="middle">250</text><text x="286.45" y="305.30" class="tk" text-anchor="middle">300</text>
<text x="441.20" y="304.70" class="tk" text-anchor="middle">50</text><text x="487.70" y="304.70" class="tk" text-anchor="middle">100</text><text x="534.20" y="304.70" class="tk" text-anchor="middle">150</text><text x="580.70" y="304.70" class="tk" text-anchor="middle">200</text><text x="627.20" y="304.70" class="tk" text-anchor="middle">250</text><text x="673.70" y="304.70" class="tk" text-anchor="middle">300</text>
<text x="15.73 20.84 28.65" y="12.75" class="pl">(a)</text><text x="385.58 391.41 399.75" y="12.75" class="pl">(b)</text>
<text x="165.69" y="317.7" class="nl">N</text><text x="547.09" y="317.75" class="nl">N</text>
<text transform="translate(14.9,160.4) rotate(-90)" class="ew"><tspan x="-0.55">e</tspan><tspan x="8.09" dy="2.3" font-size="12.8">w</tspan></text>

</svg>
</body></html>
